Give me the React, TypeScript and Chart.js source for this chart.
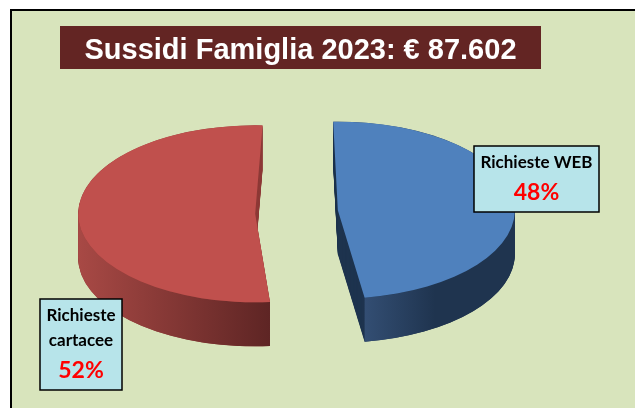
import React, { useEffect, useRef } from "react";
import { Chart, registerables } from "chart.js";

Chart.register(...registerables);

const titleText = "Sussidi Famiglia 2023: € 87.602";
const categories = ["Richieste WEB", "Richieste cartacee"];
const shares = [48, 52];
const sliceColors = ["#4F81BD", "#C0504D"];

const wallEdge = [
  ["#334E73", "#1F344F"],
  ["#A84945", "#5E2524"],
];
const wallFlat = ["#1F344F", "#8F3B38"];
const calloutLines = [["Richieste WEB"], ["Richieste", "cartacee"]];
const calloutBoxes = [
  { x: 474, y: 146, w: 125, h: 66 },
  { x: 40, y: 299, w: 82, h: 91 },
];

const SQUASH = 0.5;
const DEPTH = 44;
const CY = 212;
// perspective tweaks of each exploded slice: pull-out distance, extra turn (radians)
const pullOut = [41, 42];
const perspectiveTurn = [0, 0.068];

const TWO_PI = 2 * Math.PI;
const norm = (v: number) => ((v % TWO_PI) + TWO_PI) % TWO_PI;

const scene = {
  id: "scene",
  beforeDraw(chart: any) {
    const { ctx, width, height } = chart;
    ctx.save();
    ctx.fillStyle = "#FFFFFF";
    ctx.fillRect(0, 0, width, height);
    ctx.fillStyle = "#D8E4BC";
    ctx.fillRect(11, 10, width - 11, height - 10);
    ctx.fillStyle = "#000000";
    ctx.fillRect(10, 9, width - 10, 2);
    ctx.fillRect(10, 9, 2, height - 9);
    ctx.fillStyle = "#632523";
    ctx.fillRect(60, 26, 481, 43);
    ctx.restore();
  },
  beforeDatasetDraw(chart: any, args: any) {
    const { ctx } = chart;
    args.meta.data.forEach((a: any, i: number) => {
      const mid = (a.startAngle + a.endAngle) / 2;
      const dx = Math.cos(mid) * pullOut[i];
      const dy = Math.sin(mid) * pullOut[i];
      const cx = a.x + dx;
      const cy = a.y + dy * SQUASH;
      const r = a.outerRadius;
      const turn = perspectiveTurn[i];
      const s = a.startAngle + turn;
      const e = a.endAngle + turn;
      ctx.save();
      ctx.fillStyle = wallFlat[i];
      for (let d = DEPTH; d >= 0; d -= 1) {
        ctx.beginPath();
        ctx.moveTo(cx, cy + d);
        ctx.ellipse(cx, cy + d, r, r * SQUASH, 0, s, e);
        ctx.closePath();
        ctx.fill();
      }
      const a0 = norm(s);
      const a1 = a0 + (e - s);
      const lo = Math.max(a0, 0);
      const hi = Math.min(a1, Math.PI);
      const from = hi > lo ? lo : Math.max(a0, TWO_PI);
      const to = hi > lo ? hi : Math.min(a1, 3 * Math.PI);
      const grad =
        i === 0
          ? ctx.createLinearGradient(cx + Math.cos(to) * r, 0, cx + r * 0.55, 0)
          : ctx.createLinearGradient(cx - r, 0, cx + Math.cos(from) * r, 0);
      grad.addColorStop(0, wallEdge[i][0]);
      grad.addColorStop(1, wallEdge[i][1]);
      ctx.fillStyle = grad;
      ctx.beginPath();
      ctx.ellipse(cx, cy, r, r * SQUASH, 0, from, to);
      ctx.ellipse(cx, cy + DEPTH, r, r * SQUASH, 0, to, from, true);
      ctx.closePath();
      ctx.fill();
      ctx.restore();

      ctx.save();
      ctx.translate(cx, cy);
      ctx.scale(1, SQUASH);
      ctx.rotate(turn);
      ctx.translate(-a.x, -a.y);
      a.draw(ctx);
      ctx.restore();
    });
    return false;
  },
  afterDraw(chart: any) {
    const { ctx } = chart;
    ctx.save();
    ctx.textAlign = "center";
    ctx.textBaseline = "middle";
    ctx.fillStyle = "#FFFFFF";
    ctx.font = 'bold 29px "Liberation Sans"';
    ctx.fillText(titleText, 300.5, 51);
    categories.forEach((_, i) => {
      const b = calloutBoxes[i];
      ctx.fillStyle = "#B7E4EA";
      ctx.strokeStyle = "#000000";
      ctx.lineWidth = 1.5;
      ctx.fillRect(b.x, b.y, b.w, b.h);
      ctx.strokeRect(b.x, b.y, b.w, b.h);
      const mx = b.x + b.w / 2;
      ctx.fillStyle = "#000000";
      ctx.font = "bold 17px Lato";
      calloutLines[i].forEach((line, j) => {
        ctx.fillText(line, mx, b.y + 17 + j * 25);
      });
      ctx.fillStyle = "#FF0000";
      ctx.font = "bold 23px Lato";
      ctx.fillText(shares[i] + "%", mx, b.y + b.h - 19);
    });
    ctx.restore();
  },
};

export default function App() {
  const ref = useRef<HTMLCanvasElement>(null);
  useEffect(() => {
    document.body.style.margin = "0";
    const chart = new Chart(ref.current!, {
      type: "pie",
      data: {
        labels: categories,
        datasets: [
          {
            data: shares,
            backgroundColor: sliceColors,
            borderWidth: 0,
            radius: 177,
            clip: false,
          } as any,
        ],
      },
      options: {
        animation: false,
        responsive: false,
        rotation: -1.5,
        layout: { padding: { left: 0, right: 41, top: 2 * CY - 408, bottom: 0 } },
        plugins: { legend: { display: false }, tooltip: { enabled: false }, title: { display: false } },
      } as any,
      plugins: [scene],
    });
    return () => chart.destroy();
  }, []);
  return <canvas ref={ref} width={635} height={408} style={{ display: "block" }} />;
}
